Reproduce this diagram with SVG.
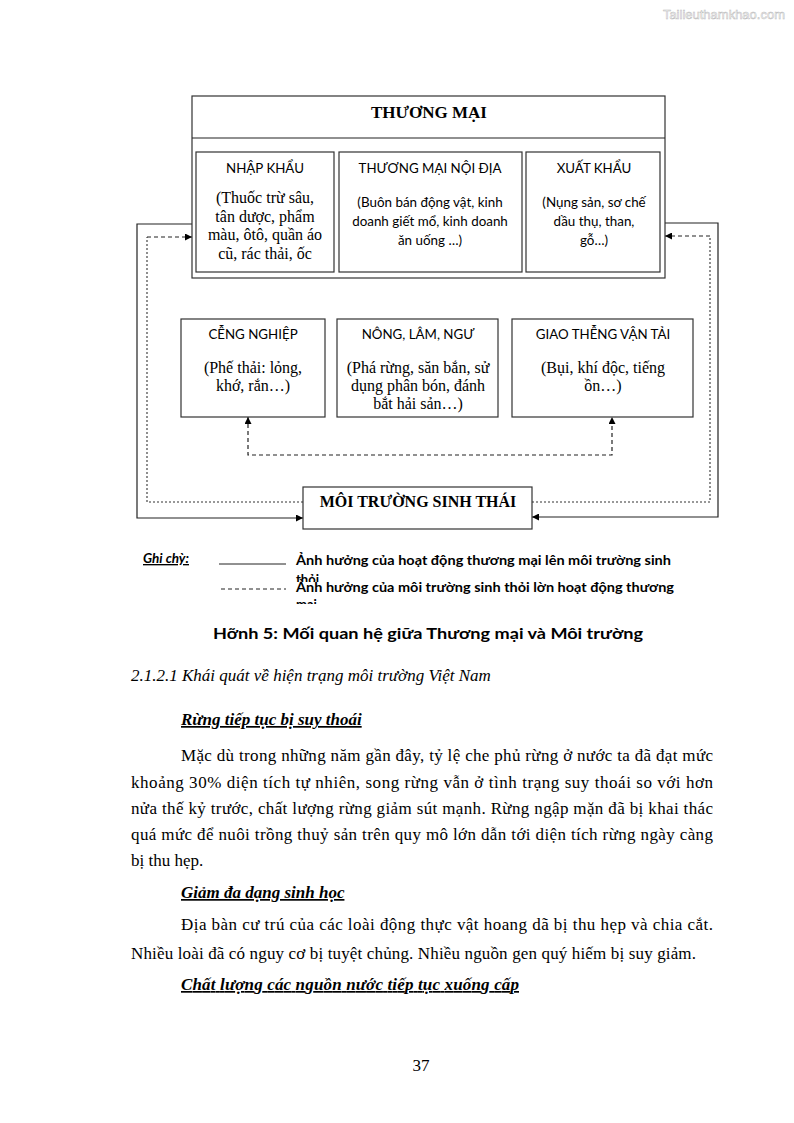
<svg xmlns="http://www.w3.org/2000/svg" width="794" height="1123" viewBox="0 0 794 1123">
<defs>
<style>
.box{fill:#fff;stroke:#333;stroke-width:1.2}
.ln{fill:none;stroke:#222;stroke-width:1.2}
.dot{fill:none;stroke:#333;stroke-width:1.1;stroke-dasharray:2,2}
.dash{fill:none;stroke:#222;stroke-width:1.2;stroke-dasharray:4,3}
.tb{font-family:"Liberation Serif",serif;font-weight:bold;fill:#000;text-anchor:middle}
.hd{font-family:Lato,"Liberation Sans",sans-serif;font-size:13.3px;fill:#000;text-anchor:middle}
.sv{font-family:"Liberation Serif",serif;font-size:16px;fill:#000;text-anchor:middle}
.sn{font-family:Lato,"Liberation Sans",sans-serif;font-size:13.4px;fill:#000;text-anchor:middle}
.lg{font-family:Lato,"Liberation Sans",sans-serif;font-size:13px;font-weight:bold;fill:#000}
.bd{font-family:"Liberation Serif",serif;font-size:17px;fill:#000}
.bi{font-family:"Liberation Serif",serif;font-size:17px;font-weight:bold;font-style:italic;text-decoration:underline;fill:#000}
</style>
<marker id="ah" viewBox="0 0 10 10" refX="10" refY="5" markerWidth="10" markerHeight="7" markerUnits="userSpaceOnUse" orient="auto-start-reverse">
<path d="M0,0 L10,5 L0,10 z" fill="#000"/>
</marker>
<clipPath id="c1"><rect x="290" y="570" width="400" height="12"/></clipPath>
<clipPath id="c2"><rect x="290" y="596" width="400" height="8"/></clipPath>
</defs>
<rect width="794" height="1123" fill="#fff"/>
<text x="785" y="19" font-family="Liberation Sans,sans-serif" font-size="13" fill="#fff" stroke="#b8b8b8" stroke-width="0.5" text-anchor="end">Tailieuthamkhao.com</text>

<g id="connectors">
<path class="ln" d="M192,224 H137 V518 H303" marker-end="url(#ah)"/>
<path class="ln" d="M665,223 H718 V517 H532" marker-end="url(#ah)"/>
<path class="dot" d="M303,502 H147 V237"/>
<path class="dash" d="M147,237 H192" marker-end="url(#ah)"/>
<path class="dot" d="M532,502 H710 V236"/>
<path class="dash" d="M710,236 H665" marker-end="url(#ah)"/>
<path class="dash" d="M248,417 V455 H612 V417" marker-start="url(#ah)" marker-end="url(#ah)"/>
</g>

<g id="thuong-mai">
<rect class="box" x="192" y="96" width="473" height="182"/>
<line class="ln" x1="192" y1="138" x2="665" y2="138"/>
<text class="tb" x="429" y="118" font-size="17">THƯƠNG MẠI</text>
</g>
<g id="nhap-khau">
<rect class="box" x="196" y="152" width="138" height="120"/>
<text class="hd" x="265" y="173">NHẬP KHẨU</text>
<text class="sv" x="265" y="203">(Thuốc trừ sâu,</text>
<text class="sv" x="265" y="222">tân dược, phẩm</text>
<text class="sv" x="265" y="240">màu, ôtô, quần áo</text>
<text class="sv" x="265" y="259">cũ, rác thải, ốc</text>
</g>
<g id="noi-dia">
<rect class="box" x="339" y="152" width="183" height="120"/>
<text class="hd" x="430" y="173">THƯƠNG MẠI NỘI ĐỊA</text>
<text class="sn" x="430" y="207">(Buôn bán động vật, kinh</text>
<text class="sn" x="430" y="226">doanh giết mổ, kinh doanh</text>
<text class="sn" x="430" y="245">ăn uống …)</text>
</g>
<g id="xuat-khau">
<rect class="box" x="526" y="152" width="134" height="120"/>
<text class="hd" x="594" y="173">XUẤT KHẨU</text>
<text class="sn" x="594" y="207">(Nụng sản, sơ chế</text>
<text class="sn" x="594" y="226">dầu thụ, than,</text>
<text class="sn" x="594" y="245">gỗ…)</text>
</g>

<g id="cong-nghiep">
<rect class="box" x="181" y="319" width="144" height="98"/>
<text class="hd" x="253" y="339">CỄNG NGHIỆP</text>
<text class="sv" x="253" y="373">(Phế thải: lỏng,</text>
<text class="sv" x="253" y="391">khớ, rắn…)</text>
</g>
<g id="nong-lam-ngu">
<rect class="box" x="337" y="319" width="161" height="98"/>
<text class="hd" x="418" y="339">NÔNG, LÂM, NGƯ</text>
<text class="sv" x="418" y="373">(Phá rừng, săn bắn, sử</text>
<text class="sv" x="418" y="391">dụng phân bón, đánh</text>
<text class="sv" x="418" y="409">bắt hải sản…)</text>
</g>
<g id="giao-thong">
<rect class="box" x="512" y="319" width="181" height="98"/>
<text class="hd" x="603" y="339">GIAO THỄNG VẬN TẢI</text>
<text class="sv" x="603" y="373">(Bụi, khí độc, tiếng</text>
<text class="sv" x="603" y="391">ồn…)</text>
</g>

<g id="moi-truong">
<rect class="box" x="303" y="487" width="229" height="42"/>
<text class="tb" x="418" y="507" font-size="16">MÔI TRƯỜNG SINH THÁI</text>
</g>

<g id="legend">
<text x="143" y="563" font-family="Lato,Liberation Sans,sans-serif" font-size="13.5" font-weight="bold" font-style="italic" text-decoration="underline">Ghi chỳ:</text>
<line x1="219" y1="564" x2="286" y2="564" stroke="#222" stroke-width="1"/>
<line x1="221" y1="589" x2="286" y2="589" stroke="#222" stroke-width="1" stroke-dasharray="4,3"/>
<text class="lg" x="296" y="565" textLength="375" lengthAdjust="spacingAndGlyphs">Ảnh hưởng của hoạt động thương mại lên môi trường sinh</text>
<text class="lg" x="296" y="584" clip-path="url(#c1)">thỏi</text>
<text class="lg" x="296" y="592" textLength="378" lengthAdjust="spacingAndGlyphs">Ảnh hưởng của môi trường sinh thỏi lờn hoạt động thương</text>
<text class="lg" x="296" y="609" clip-path="url(#c2)">mai</text>
<text x="213" y="639" font-family="Lato,Liberation Sans,sans-serif" font-size="16" font-weight="bold" textLength="430" lengthAdjust="spacingAndGlyphs">Hỡnh 5: Mối quan hệ giữa Thương mại và Môi trường</text>
</g>

<g id="body">
<text class="bd" x="131" y="681" font-style="italic" font-size="16.3">2.1.2.1 Khái quát về hiện trạng môi trường Việt Nam</text>
<text class="bi" x="181" y="725">Rừng tiếp tục bị suy thoái</text>
<text class="bd" x="181" y="761" textLength="532" lengthAdjust="spacing">Mặc dù trong những năm gần đây, tỷ lệ che phủ rừng ở nước ta đã đạt mức</text>
<text class="bd" x="131" y="788" textLength="582" lengthAdjust="spacing">khoảng 30% diện tích tự nhiên, song rừng vẫn ở tình trạng suy thoái so với hơn</text>
<text class="bd" x="131" y="814" textLength="582" lengthAdjust="spacing">nửa thế kỷ trước, chất lượng rừng giảm sút mạnh. Rừng ngập mặn đã bị khai thác</text>
<text class="bd" x="131" y="840" textLength="582" lengthAdjust="spacing">quá mức để nuôi trồng thuỷ sản trên quy mô lớn dẫn tới diện tích rừng ngày càng</text>
<text class="bd" x="131" y="866">bị thu hẹp.</text>
<text class="bi" x="181" y="898">Giảm đa dạng sinh học</text>
<text class="bd" x="181" y="930" textLength="532" lengthAdjust="spacing">Địa bàn cư trú của các loài động thực vật hoang dã bị thu hẹp và chia cắt.</text>
<text class="bd" x="131" y="959" textLength="565" lengthAdjust="spacing">Nhiều loài đã có nguy cơ bị tuyệt chủng. Nhiều nguồn gen quý hiếm bị suy giảm.</text>
<text class="bi" x="181" y="990" textLength="338" lengthAdjust="spacing">Chất lượng các nguồn nước tiếp tục xuống cấp</text>
<text class="bd" x="421" y="1071" text-anchor="middle" font-size="16">37</text>
</g>
</svg>
